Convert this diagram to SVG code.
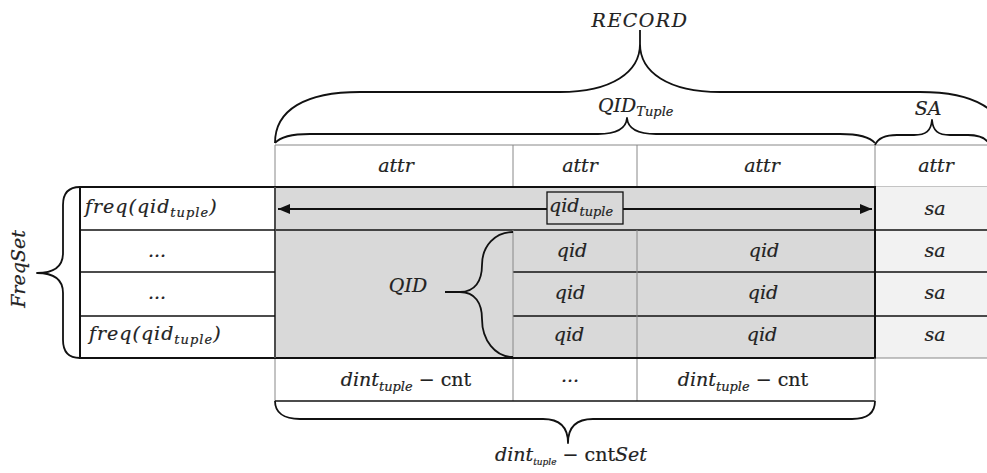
<svg xmlns="http://www.w3.org/2000/svg" width="987" height="473" viewBox="0 0 987 473">
  <style>
    .t { font-family: "DejaVu Serif", "Liberation Serif", serif; font-style: italic; fill: #222; stroke: #222; stroke-width: 0.2; font-size: 19px; }
    .up { font-style: normal; }
    .sub { font-size: 13px; }
    .thin { stroke: #888; stroke-width: 1; fill: none; }
    .blk { stroke: #111; stroke-width: 1.3; fill: none; }
    .bold { stroke: #111; stroke-width: 2; fill: none; }
    .brace { stroke: #111; stroke-width: 1.8; fill: none; stroke-linejoin: round; }
  </style>
  <defs>
    <marker id="ah" viewBox="0 0 12 10" refX="12" refY="5" markerWidth="12" markerHeight="10" markerUnits="userSpaceOnUse" orient="auto-start-reverse">
      <path d="M0,0 L12,5 L0,10 Z" fill="#111"/>
    </marker>
  </defs>
  <rect width="987" height="473" fill="#fff"/>

  <!-- header row of attributes -->
  <g id="header">
    <line class="thin" x1="275" y1="145" x2="987" y2="145"/>
    <line class="thin" x1="275" y1="145" x2="275" y2="401"/>
    <line class="thin" x1="513" y1="145" x2="513" y2="187"/>
    <line class="thin" x1="637" y1="145" x2="637" y2="187"/>
    <line class="thin" x1="875" y1="145" x2="875" y2="187"/>
    <line class="thin" x1="875" y1="187" x2="987" y2="187"/>
    <text class="t" x="396" y="172" text-anchor="middle">attr</text>
    <text class="t" x="580" y="172" text-anchor="middle">attr</text>
    <text class="t" x="762" y="172" text-anchor="middle">attr</text>
    <text class="t" x="936" y="172" text-anchor="middle">attr</text>
  </g>

  <!-- sensitive attribute column -->
  <g id="sa-column">
    <rect x="875" y="187" width="112" height="171" fill="#f2f2f2"/>
    <line class="blk" x1="875" y1="230" x2="987" y2="230"/>
    <line class="blk" x1="875" y1="272" x2="987" y2="272"/>
    <line class="blk" x1="875" y1="316" x2="987" y2="316"/>
    <line class="thin" x1="875" y1="358" x2="987" y2="358"/>
    <text class="t" x="935" y="215" text-anchor="middle">sa</text>
    <text class="t" x="935" y="257" text-anchor="middle">sa</text>
    <text class="t" x="935" y="299" text-anchor="middle">sa</text>
    <text class="t" x="935" y="341" text-anchor="middle">sa</text>
  </g>

  <!-- quasi-identifier block -->
  <g id="qid-block">
    <rect x="275" y="187" width="600" height="171" fill="#d9d9d9"/>
    <line class="blk" x1="275" y1="230" x2="875" y2="230"/>
    <line class="blk" x1="513" y1="272" x2="875" y2="272"/>
    <line class="blk" x1="513" y1="316" x2="875" y2="316"/>
    <line class="thin" x1="513" y1="230" x2="513" y2="401" stroke="#666"/>
    <line class="thin" x1="637" y1="230" x2="637" y2="401" stroke="#666"/>
    <line class="thin" x1="275" y1="187" x2="275" y2="358"/>
    <path class="bold" d="M275,187 H875 V358 H275"/>
    <text class="t" x="572" y="257" text-anchor="middle">qid</text>
    <text class="t" x="764" y="257" text-anchor="middle">qid</text>
    <text class="t" x="570" y="299" text-anchor="middle">qid</text>
    <text class="t" x="763" y="299" text-anchor="middle">qid</text>
    <text class="t" x="569" y="341" text-anchor="middle">qid</text>
    <text class="t" x="762" y="341" text-anchor="middle">qid</text>
    <text class="t" x="408" y="292" text-anchor="middle" font-size="20">QID</text>
  </g>

  <!-- frequency set -->
  <g id="freqset">
    <rect class="bold" x="80" y="187" width="195" height="171" fill="#fff"/>
    <line class="thin" x1="275" y1="187" x2="275" y2="358"/>
    <line class="blk" x1="80" y1="230" x2="275" y2="230"/>
    <line class="blk" x1="80" y1="272" x2="275" y2="272"/>
    <line class="blk" x1="80" y1="316" x2="275" y2="316"/>
    <text class="t" x="85" y="213" letter-spacing="1">freq(qid<tspan class="sub" dy="4">tuple</tspan><tspan dy="-4">)</tspan></text>
    <text class="t" x="157" y="257" text-anchor="middle">...</text>
    <text class="t" x="157" y="299" text-anchor="middle">...</text>
    <text class="t" x="89" y="340" font-size="18" letter-spacing="1">freq(qid<tspan class="sub" font-size="12" dy="4">tuple</tspan><tspan dy="-4">)</tspan></text>
    <text class="t" x="0" y="0" transform="translate(25,269) rotate(-90)" text-anchor="middle" font-size="20" fill="#6e4c2c" stroke="#6e4c2c">FreqSet</text>
  </g>

  <!-- distinct count row -->
  <g id="dint-row">
    <line class="blk" x1="275" y1="401" x2="875" y2="401"/>
    <line class="thin" x1="875" y1="358" x2="875" y2="401"/>
    <text class="t" x="406" y="386" text-anchor="middle" font-size="21">dint<tspan class="sub" font-size="14" dy="5">tuple</tspan><tspan class="up" dy="-5"> − cnt</tspan></text>
    <text class="t" x="570" y="382" text-anchor="middle">...</text>
    <text class="t" x="743" y="386" text-anchor="middle" font-size="21">dint<tspan class="sub" font-size="14" dy="5">tuple</tspan><tspan class="up" dy="-5"> − cnt</tspan></text>
  </g>

  <!-- braces and arrow -->
  <g id="connectors">
    <path class="brace" d="M275,143 C275,110 305,92 360,92 L560,92 C612,92 640,72 640,44 L640,30 M640,44 C640,72 668,92 720,92 L920,92 C975,92 1005,110 1005,143"/>
    <path class="brace" d="M275,143 C280,137 290,134 310,134 L598,134 C615,134 626,130 627,118 C628,130 639,134 656,134 L840,134 C860,134 870,137 875,143"/>
    <path class="brace" d="M875,145 C878,138 885,135 897,135 L914,135 C926,135 931,131 932,120 C933,131 938,135 950,135 L968,135 C980,135 987,139 990,145"/>
    <path class="brace" d="M275,401 C275,412 283,419 300,419 L543,419 C560,419 568,428 568,443 C568,428 576,419 593,419 L852,419 C868,419 875,412 875,401"/>
    <path class="brace" d="M80,187 C68,187 63,193 63,205 L63,253 C63,266 55,273 37,273 C55,273 63,280 63,293 L63,340 C63,352 68,358 80,358"/>
    <path class="brace" d="M445,292 L460,292 C475,292 482,281 482,265 C482,246 495,232 513,232 M460,292 C475,292 482,303 482,319 C482,340 495,357 513,357"/>
    <line x1="278" y1="209" x2="872" y2="209" stroke="#111" stroke-width="1.8" marker-start="url(#ah)" marker-end="url(#ah)"/>
  </g>

  <!-- record tuple label box -->
  <g id="qid-tuple">
    <rect x="547" y="192" width="76" height="32" fill="#d9d9d9" stroke="#111" stroke-width="1.3"/>
    <text class="t" x="549" y="212">qid<tspan class="sub" dy="4">tuple</tspan></text>
  </g>

  <!-- brace labels -->
  <g id="labels">
    <text class="t" x="640" y="27" text-anchor="middle" letter-spacing="1.5">RECORD</text>
    <text class="t" x="598" y="112">QID<tspan class="sub" dy="4">Tuple</tspan></text>
    <text class="t" x="928" y="115" text-anchor="middle">SA</text>
    <text class="t" x="571" y="461" text-anchor="middle" font-size="14">dint<tspan font-size="9" dy="4">tuple</tspan><tspan class="up" dy="-4"> − cnt</tspan>Set</text>
  </g>
</svg>
